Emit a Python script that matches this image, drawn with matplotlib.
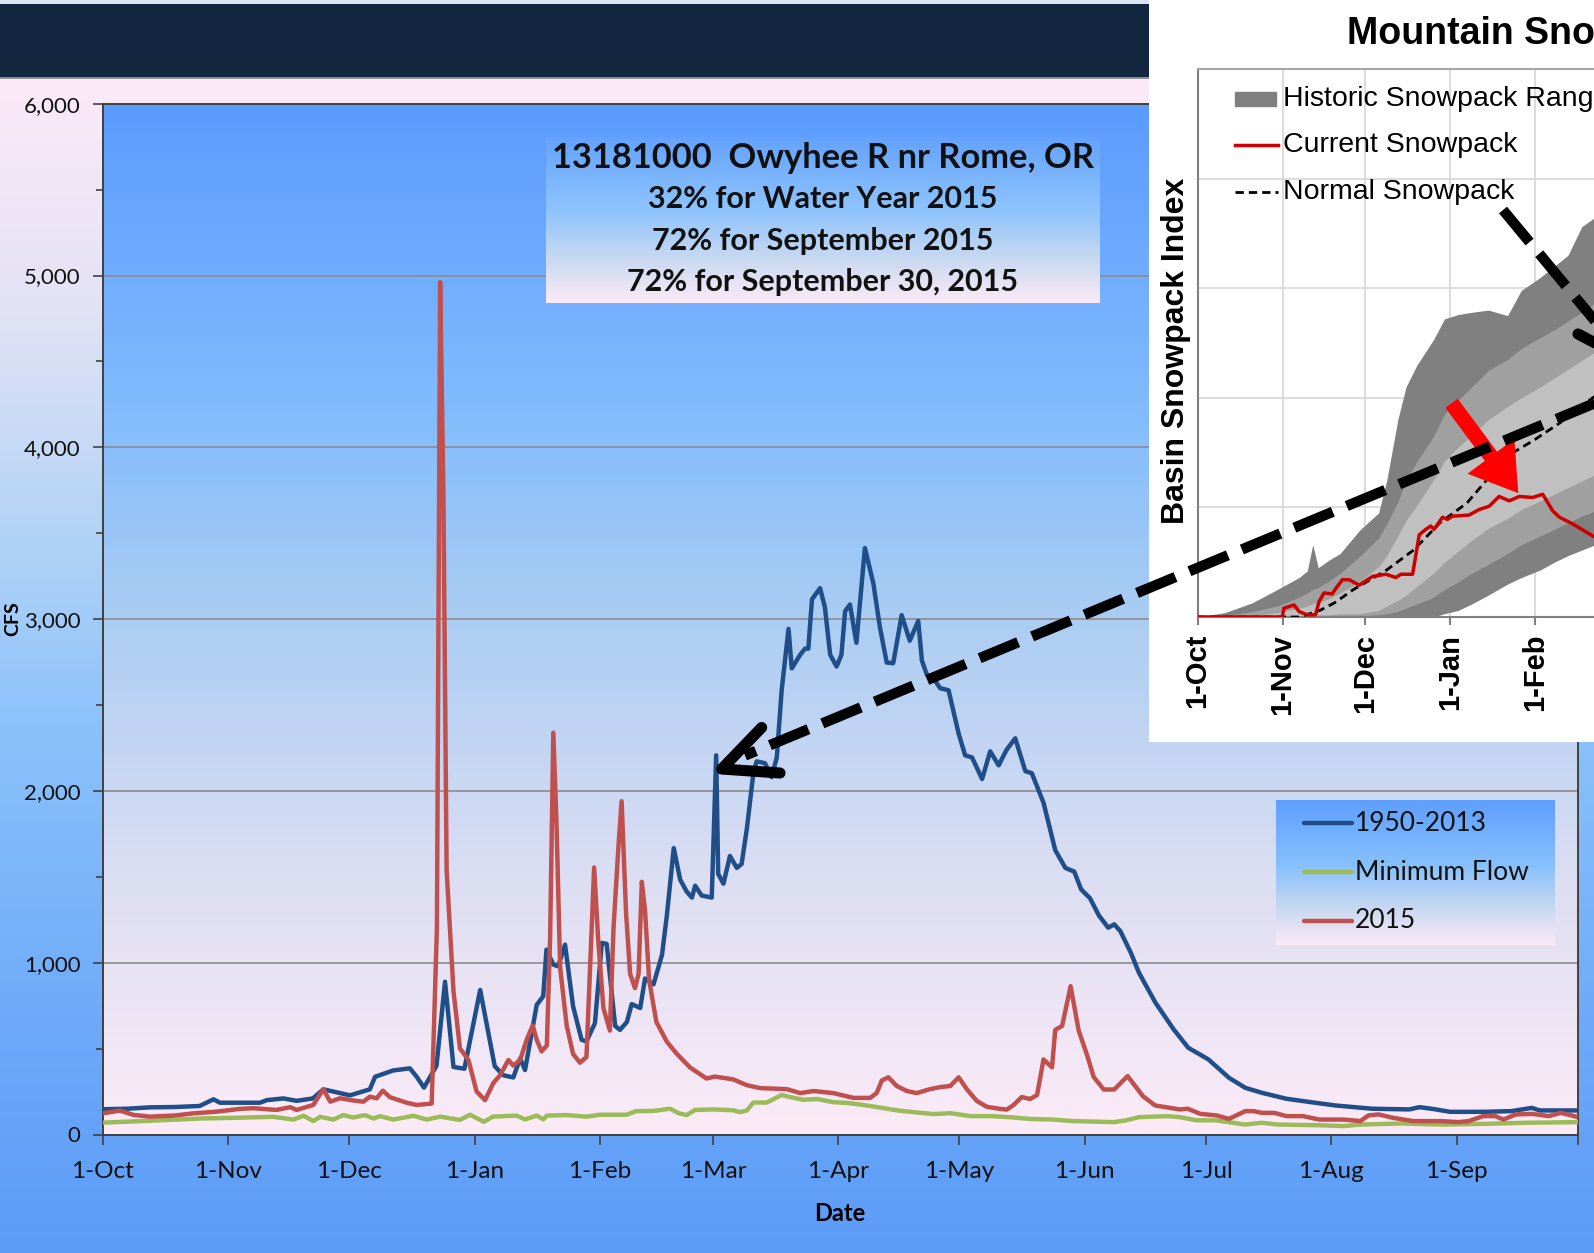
import numpy as np
import matplotlib
matplotlib.use("Agg")
import matplotlib.pyplot as plt
from matplotlib.colors import to_rgb
from matplotlib.lines import Line2D
from matplotlib.patches import Rectangle
from matplotlib.ticker import FuncFormatter, MultipleLocator

plt.rcParams['font.family'] = ['Lato', 'DejaVu Sans']

W, H, DPI = 1594, 1253, 100

# ---- main hydrograph, x = day of water year (0 = 1-Oct-2014), y = cfs
hist_days = [0, 6, 11.7, 18, 24, 27.4, 29, 38.9, 40.6, 44.7, 48, 52, 54.6, 58, 61.2, 66.1, 67.4,
             71.9, 76, 77.7, 79.5, 82.6, 84.7, 86.8, 89.5, 93.4, 97, 99.1, 101.6, 103.3, 104.5,
             107.4, 109, 109.8, 111.5, 112.7, 114.4, 116.4, 118.5, 119.7, 121.8, 123.5, 124.7,
             126.8, 128, 129.7, 130.9, 133, 134.2, 136.3, 138.4, 139.6, 141.3, 142.9, 144.5,
             145.8, 146.6, 148.2, 150.7, 151.8, 152.3, 153.6, 155.2, 156.9, 158.1, 159.4, 161,
             161.8, 163.9, 165.5, 166.8, 168, 169.7, 170.5, 172.6, 173.8, 174.6, 175.5, 177.5,
             178.7, 180, 181.6, 182.8, 183.7, 184.9, 186.5, 188.6, 190.7, 192.3, 194, 195.6,
             197.7, 199.7, 201.8, 202.7, 203.9, 205.6, 207.2, 209.3, 211.8, 213.4, 215.1, 217.6,
             219.6, 221.7, 223.7, 225.8, 228.3, 229.9, 232.8, 235.7, 238.2, 240.4, 242.1, 244.3,
             246.5, 248.8, 250.3, 251.8, 254.4, 256.4, 260.5, 265, 268.6, 273.6, 278.7, 282.7,
             286.8, 292.9, 299, 305, 314.1, 323.3, 325.8, 328.8, 333.4, 341.5, 348.6, 353.6,
             355.6, 364.7]
hist_cfs = [147, 150, 158, 160, 166, 205, 185, 185, 200, 210, 196, 210, 263, 245, 228, 263, 336,
            373, 385, 336, 273, 400, 889, 393, 383, 841, 398, 345, 332, 443, 375,
            755, 804, 1076, 989, 979, 1105, 745, 551, 542, 648, 1115, 1110,
            632, 609, 655, 759, 736, 908, 874, 1046, 1276, 1667, 1483, 1414,
            1379, 1448, 1391, 1379, 2207, 1517, 1460, 1621, 1552, 1575, 1782, 2103,
            2172, 2161, 2080, 2195, 2586, 2943, 2713, 2793, 2828, 2828, 3115, 3180,
            3069, 2793, 2724, 2793, 3046, 3085, 2862, 3414, 3207, 2954, 2747, 2743,
            3023, 2874, 2989, 2759, 2678, 2655, 2598, 2586, 2333, 2207, 2195, 2069,
            2230, 2149, 2241, 2306, 2115, 2103, 1931, 1655, 1552, 1530, 1427, 1375,
            1275, 1204, 1223, 1184, 1058, 942, 767, 612, 505, 437, 330, 272,
            243, 208, 188, 169, 150, 146, 159, 150, 132, 132, 136, 155,
            140, 140]

wy2015_days = [0, 4.3, 7.6, 11.7, 17.5, 22.4, 28.2, 33.9, 37.3, 43, 46.4, 48, 52.1, 54.6, 56.3,
               58.7, 62, 64.5, 66.1, 67.8, 69.3, 71.1, 75.2, 77.7, 81.4, 82.7, 83.5, 84.3, 85.1,
               86.8, 88.4, 90.5, 92.5, 94.6, 96.7, 98.3, 100.4, 101.6, 103.3, 104.9, 106.4, 107.4,
               108.6, 109.9, 110.7, 111.5, 112.3, 113.2, 114.8, 116.4, 118.1, 119.7, 120.6, 121.6,
               122.6, 123.9, 125.5, 126.4, 127.6, 128.4, 129.5, 130.5, 131.7, 132.6, 133.4, 134.2,
               135.2, 137, 139.6, 142, 145.3, 149.4, 151.5, 156, 159.4, 162.7, 169.3, 172.6, 175.9,
               180.8, 185.8, 189.9, 191.5, 192.8, 194.4, 196.5, 199, 201.4, 204.7, 207.2, 209.7,
               211.8, 213.8, 216.3, 218.8, 222.1, 223.7, 225.4, 227.4, 229.5, 231.2, 232.8, 234.9,
               235.7, 237.4, 239.5, 241.5, 243.6, 245.2, 247.7, 250.3, 253.6, 257.4, 260.4, 266.5,
               268.5, 271.6, 275.6, 278.7, 282.7, 284.8, 286.8, 289.9, 292.9, 297, 301, 307.1,
               311.2, 313.2, 315.7, 319.3, 324.3, 331.4, 335.5, 338, 341.6, 344.6, 346.6, 349.7,
               353.7, 357.8, 360.8, 364.8]
wy2015_cfs = [123, 139, 114, 104, 110, 123, 133, 149, 153, 143, 159, 143, 172, 263, 191,
              211, 198, 191, 220, 211, 255, 217, 185, 172, 180, 1203, 4961, 3742, 1537,
              835, 501, 434, 251, 200, 301, 344, 434, 401, 434, 551, 635, 551,
              484, 518, 1136, 2339, 1804, 969, 635, 468, 418, 451, 969, 1554,
              1136, 735, 605, 1203, 1671, 1940, 1290, 935, 852, 935, 1471, 1303,
              900, 655, 540, 471, 391, 326, 337, 321, 287, 270, 264, 241, 253,
              241, 213, 213, 241, 315, 333, 282, 253, 241, 264, 276, 282,
              333, 264, 195, 161, 149, 145, 172, 218, 207, 230, 437, 391,
              609, 632, 863, 605, 460, 335, 262, 262, 340, 223, 169, 146,
              150, 120, 111, 91, 136, 136, 126, 126, 107, 107, 87, 87,
              78, 111, 117, 97, 78, 78, 72, 78, 107, 107, 87, 117,
              120, 107, 126, 103]

minflow_days = [0, 11.7, 24.1, 32.3, 42.2, 47.2, 49.7, 52.1, 53.8, 57.1, 59.5, 62, 64.9, 67, 68.6,
                71.9, 76.9, 80.2, 83.5, 88.4, 90.9, 94.3, 96.6, 102.4, 104.5, 107.4, 109, 109.9,
                114.8, 119.7, 123, 129.6, 132, 136.2, 140.4, 142.5, 144.5, 146.6, 151.1, 156,
                157.7, 159.4, 161, 164.3, 168, 170.1, 173.4, 176.7, 180.8, 184.1, 188.2, 197.3,
                205.6, 209.7, 214.7, 219.8, 224.9, 229.9, 235, 240.1, 250.3, 253.3, 256.4, 263.5,
                266.5, 270.6, 275.6, 282.7, 286.8, 290.8, 301, 307.1, 311.2, 321.3, 331.4, 341.6,
                351.7, 364.8]
minflow_cfs = [69, 80, 93, 97, 103, 87, 109, 78, 103, 87, 113, 99, 113, 93, 107,
               87, 109, 87, 104, 85, 115, 74, 104, 110, 88, 110, 88, 110,
               113, 104, 115, 115, 136, 137, 150, 124, 113, 143, 146, 141,
               130, 140, 186, 186, 230, 218, 202, 207, 188, 184, 172, 138,
               119, 124, 107, 107, 100, 90, 87, 78, 72, 83, 101, 107,
               101, 83, 82, 58, 68, 58, 54, 49, 58, 64, 58, 62,
               68, 72]

month_ticks = [0, 31, 61, 92, 123, 151, 182, 212, 243, 273, 304, 335]
month_labels = ['1-Oct', '1-Nov', '1-Dec', '1-Jan', '1-Feb', '1-Mar', '1-Apr', '1-May',
                '1-Jun', '1-Jul', '1-Aug', '1-Sep']

series_names = ['1950-2013', 'Minimum Flow', '2015']
series_colors = ['#1F4E89', '#9BBB59', '#C0504D']

title_lines = ['13181000  Owyhee R nr Rome, OR', '32% for Water Year 2015',
               '72% for September 2015', '72% for September 30, 2015']

# ---- inset: basin snowpack index
snow_days = [0, 10, 20, 29, 37, 40, 42, 44, 48, 52, 59, 66, 69, 73, 76, 80, 86, 90, 95, 100, 106,
             113, 118, 125, 130, 135, 140, 145, 150]
snow_max = [0, .04, .13, .25, .36, .42, .66, .45, .52, .58, .79, .95, 1.25, 1.80, 2.10, 2.30,
            2.53, 2.72, 2.76, 2.78, 2.80, 2.75, 2.98, 3.10, 3.20, 3.30, 3.56, 3.65, 3.70]
snow_p90 = [0, .01, .05, .10, .18, .22, .25, .27, .33, .40, .55, .72, .85, 1.05, 1.25, 1.42,
            1.65, 1.85, 1.98, 2.10, 2.25, 2.35, 2.45, 2.55, 2.62, 2.70, 2.78, 2.87, 2.92]
snow_p70 = [0, 0, .01, .04, .08, .10, .12, .13, .17, .22, .32, .46, .56, .74, .88, 1.02,
            1.25, 1.42, 1.55, 1.66, 1.80, 1.92, 2.00, 2.10, 2.18, 2.26, 2.34, 2.42, 2.48]
snow_p30 = [0, 0, 0, 0, 0, 0, .01, .02, .02, .03, .03, .06, .10, .15, .20, .28,
            .40, .50, .60, .70, .81, .90, .98, 1.06, 1.12, 1.18, 1.24, 1.30, 1.34]
snow_p10 = [0, 0, 0, 0, 0, 0, 0, 0, 0, .01, .01, .02, .03, .05, .08, .12,
            .18, .25, .32, .40, .48, .58, .66, .74, .80, .86, .92, .97, 1.0]
snow_min = [0, 0, 0, 0, 0, 0, 0, 0, 0, 0, 0, 0, 0, 0, 0, 0,
            0, .03, .06, .12, .20, .30, .36, .43, .50, .56, .61, .66, .70]

normal_days = [0, 37, 44.6, 50, 56.8, 63, 69, 78.7, 88.4, 98.2, 105.4, 115, 122.4, 132, 144, 150]
normal_vals = [0, 0, 0.06, 0.13, 0.25, 0.34, 0.43, 0.61, 0.86, 1.04, 1.25, 1.5, 1.61, 1.77, 2.0, 2.08]

current_days = [0, 30.9, 31.5, 35.2, 37, 40, 43, 44.3, 46.1, 49.1, 50.4, 52.8, 55.3, 58.9, 63.8,
                68.7, 72.3, 74.1, 78.4, 80.8, 83.2, 85, 86.2, 89.3, 91.1, 92.9, 99, 102.6, 106.3,
                109.9, 113.6, 117.3, 122.1, 125.8, 129.4, 131.9, 136.7, 144, 150]
current_vals = [0, 0, 0.08, 0.11, 0.05, 0.02, 0.02, 0.14, 0.22, 0.21, 0.26, 0.34, 0.34, 0.29, 0.37,
                0.39, 0.36, 0.39, 0.39, 0.75, 0.8, 0.83, 0.8, 0.91, 0.89, 0.92, 0.93, 0.98, 1.01,
                1.1, 1.06, 1.1, 1.09, 1.12, 0.97, 0.91, 0.85, 0.74, 0.68]

inset_ticks = [0, 31, 61, 92, 123, 151, 182, 212]
inset_labels = ['1-Oct', '1-Nov', '1-Dec', '1-Jan', '1-Feb', '1-Mar', '1-Apr', '1-May']
inset_legend = ['Historic Snowpack Range', 'Current Snowpack', 'Normal Snowpack']


def box(x0, y0, x1, y1):
    # pixel box (top-left origin) -> figure fraction rect
    return [x0 / W, 1 - y1 / H, (x1 - x0) / W, (y1 - y0) / H]


def rect(x0, y0, x1, y1, color, z):
    fig.add_artist(Rectangle((x0 / W, 1 - y1 / H), (x1 - x0) / W, (y1 - y0) / H,
                             transform=fig.transFigure, facecolor=color,
                             edgecolor='none', zorder=z))


def gradient(ax, stops):
    pos = np.linspace(0, 1, 300)
    ps = [p for p, _ in stops]
    rgb = np.array([to_rgb(c) for _, c in stops])
    img = np.stack([np.interp(pos, ps, rgb[:, k]) for k in range(3)], axis=-1)[:, None, :]
    ax.imshow(img, aspect='auto', extent=(0, 1, 0, 1), origin='upper', interpolation='bilinear')
    ax.set_xlim(0, 1)
    ax.set_ylim(0, 1)
    ax.set_axis_off()


fig = plt.figure(figsize=(W / DPI, H / DPI), dpi=DPI)

# background: title banner and outer chart-area gradient
ax_bg = fig.add_axes(box(0, 79, W, H), zorder=0)
gradient(ax_bg, [(0, '#FCEAF8'), (0.2, '#E2E2F5'), (0.38, '#B4D4F6'), (0.55, '#8CC2FB'),
                 (0.8, '#6EAAF9'), (1, '#5C9CF8')])
rect(0, 0, W, 4, '#DCE6F2', 0.5)
rect(0, 4, 1149, 77, '#12263F', 0.5)
rect(0, 77, 1149, 79, '#8E8E8E', 0.5)

# main plot area
pos = box(102.7, 103.7, 1577.8, 1134.5)
ax_pbg = fig.add_axes(pos, zorder=1)
gradient(ax_pbg, [(0, '#5B9BFF'), (0.3, '#82BCFD'), (0.5, '#ABCDF3'), (0.75, '#DCDEF2'),
                  (1, '#FCEBF7')])

ax = fig.add_axes(pos, zorder=2)
ax.patch.set_alpha(0)
ax.plot(hist_days, hist_cfs, color=series_colors[0], lw=3.2, zorder=3)
ax.plot(minflow_days, minflow_cfs, color=series_colors[1], lw=3.2, zorder=3)
ax.plot(wy2015_days, wy2015_cfs, color=series_colors[2], lw=3.2, zorder=4)

ax.set_xlim(0, 365)
ax.set_ylim(0, 6000)
ax.set_xticks(month_ticks + [365])
ax.set_xticklabels(month_labels + [''])
ax.yaxis.set_major_locator(MultipleLocator(1000))
ax.yaxis.set_minor_locator(MultipleLocator(500))
ax.yaxis.set_major_formatter(FuncFormatter(lambda v, p: f'{int(v):,}'))
ax.yaxis.grid(True, color='#8C8C8C', lw=1.2)
ax.set_axisbelow(True)
ax.tick_params(which='major', direction='out', length=7, width=1.2, color='#404040',
               labelsize=16, pad=9, labelcolor='#111111')
ax.tick_params(axis='x', labelsize=17.5, pad=12)
ax.tick_params(axis='y', which='minor', direction='out', length=5, width=1.2, color='#404040')
for s in ax.spines.values():
    s.set_color('#404040')
    s.set_linewidth(1.4)
ax.text(0.5, -0.0762, 'Date', transform=ax.transAxes, ha='center', va='center',
        fontsize=17, fontweight='bold')
ax.text(-0.0608, 0.5, 'CFS', transform=ax.transAxes, ha='center', va='center',
        rotation=90, fontsize=14, fontweight='bold')

# station title box
tb = fig.add_axes(box(546, 137, 1100, 303), zorder=3)
gradient(tb, [(0, '#64A3FE'), (0.45, '#8FC4FC'), (0.75, '#CCDAF0'), (1, '#FCEAF7')])
for i, (txt, yy) in enumerate(zip(title_lines, [0.873, 0.627, 0.373, 0.127])):
    tb.text(0.5, yy, txt, transform=tb.transAxes, ha='center', va='center',
            fontsize=24.8 if i == 0 else 22, fontweight='bold', color='#111111')

# legend box
lb = fig.add_axes(box(1276, 800, 1555, 945), zorder=3)
gradient(lb, [(0, '#5E9EFF'), (0.45, '#86C0FC'), (0.75, '#C8D8F0'), (1, '#FBEAF7')])
for name, col, yy in zip(series_names, series_colors, [0.841, 0.503, 0.166]):
    lb.add_line(Line2D([0.10, 0.272], [yy, yy], transform=lb.transAxes, color=col, lw=3.2,
                       solid_capstyle='round'))
    lb.text(0.283, yy, name, transform=lb.transAxes, ha='left', va='center', fontsize=19,
            color='#111111')

# snowpack inset
rect(1149, 0, W, 742, 'white', 5)
ax_in = fig.add_axes(box(1197.5, 69, 1864.3, 617), zorder=6)
ax_in.set_facecolor('white')
ax_in.fill_between(snow_days, snow_min, snow_max, color='#808080', lw=0, zorder=2)
ax_in.fill_between(snow_days, snow_p10, snow_p90, color='#A0A0A0', lw=0, zorder=2)
ax_in.fill_between(snow_days, snow_p30, snow_p70, color='#C0C0C0', lw=0, zorder=2)
ax_in.plot(normal_days, normal_vals, color='black', lw=2, dashes=(3, 1.8), zorder=3)
ax_in.plot(current_days, current_vals, color='#CC0000', lw=2.5, zorder=4)
ax_in.set_xlim(0, 243)
ax_in.set_ylim(0, 5)
ax_in.set_xticks(inset_ticks)
ax_in.set_xticklabels(inset_labels, rotation=90, fontsize=21, fontweight='bold',
                      family='Liberation Sans')
ax_in.set_yticks(range(6))
ax_in.set_yticklabels([])
ax_in.tick_params(axis='y', length=0)
ax_in.tick_params(axis='x', length=6, width=1.5, color='#808080', pad=6)
ax_in.grid(True, color='#D9D9D9', lw=1.3)
ax_in.set_axisbelow(True)
for s in ax_in.spines.values():
    s.set_color('#A6A6A6')
    s.set_linewidth(1.5)
ax_in.spines['left'].set_color('#808080')
ax_in.spines['bottom'].set_color('#808080')
ax_in.text(-0.0322, 0.485, 'Basin Snowpack Index', transform=ax_in.transAxes, rotation=90,
           ha='center', va='center', fontsize=23, fontweight='bold', family='Liberation Sans')
ax_in.annotate('', xy=(116.9, 1.13), xytext=(92.6, 1.95),
               arrowprops=dict(arrowstyle='simple,head_width=2.1,head_length=1.65,tail_width=0.55',
                               fc='red', ec='none', mutation_scale=20, shrinkA=0, shrinkB=0),
               zorder=5)

leg_y = [0.945, 0.861, 0.775]
ax_in.add_patch(Rectangle((0.0562, leg_y[0] - 0.013), 0.0615, 0.026, transform=ax_in.transAxes,
                          color='#808080', zorder=6))
ax_in.add_line(Line2D([0.0562, 0.12], [leg_y[1]] * 2, transform=ax_in.transAxes,
                      color='#CC0000', lw=2.5, zorder=6))
ax_in.add_line(Line2D([0.0562, 0.12], [leg_y[2]] * 2, transform=ax_in.transAxes,
                      color='black', lw=2, dashes=(3, 1.8), zorder=6))
for txt, yy in zip(inset_legend, leg_y):
    ax_in.text(0.1283, yy, txt, transform=ax_in.transAxes, ha='left', va='center',
               fontsize=20.5, family='Liberation Sans', zorder=6)
fig.text(1347 / W, 1 - 34 / H, 'Mountain Snowpack', ha='left', va='center', fontsize=27,
         fontweight='bold', family='Liberation Sans', zorder=7)

# hand-drawn pointer arrows (figure pixel space)
ax_ov = fig.add_axes([0, 0, 1, 1], zorder=20)
ax_ov.set_xlim(0, W)
ax_ov.set_ylim(H, 0)
ax_ov.set_axis_off()
ax_ov.plot([1612, 745], [396, 755.5], color='black', lw=7.5, dashes=(4.0, 1.45),
           dash_capstyle='butt')
ax_ov.plot([761.7, 721.7, 780], [727.5, 769, 773], color='black', lw=8,
           solid_capstyle='round', solid_joinstyle='round')
ax_ov.plot([1503, 1600], [210, 327], color='black', lw=7.5, dashes=(4.0, 1.45),
           dash_capstyle='butt')
ax_ov.plot([1578, 1597], [334, 344], color='black', lw=8, solid_capstyle='round')

fig.savefig('out.png', dpi=DPI)
